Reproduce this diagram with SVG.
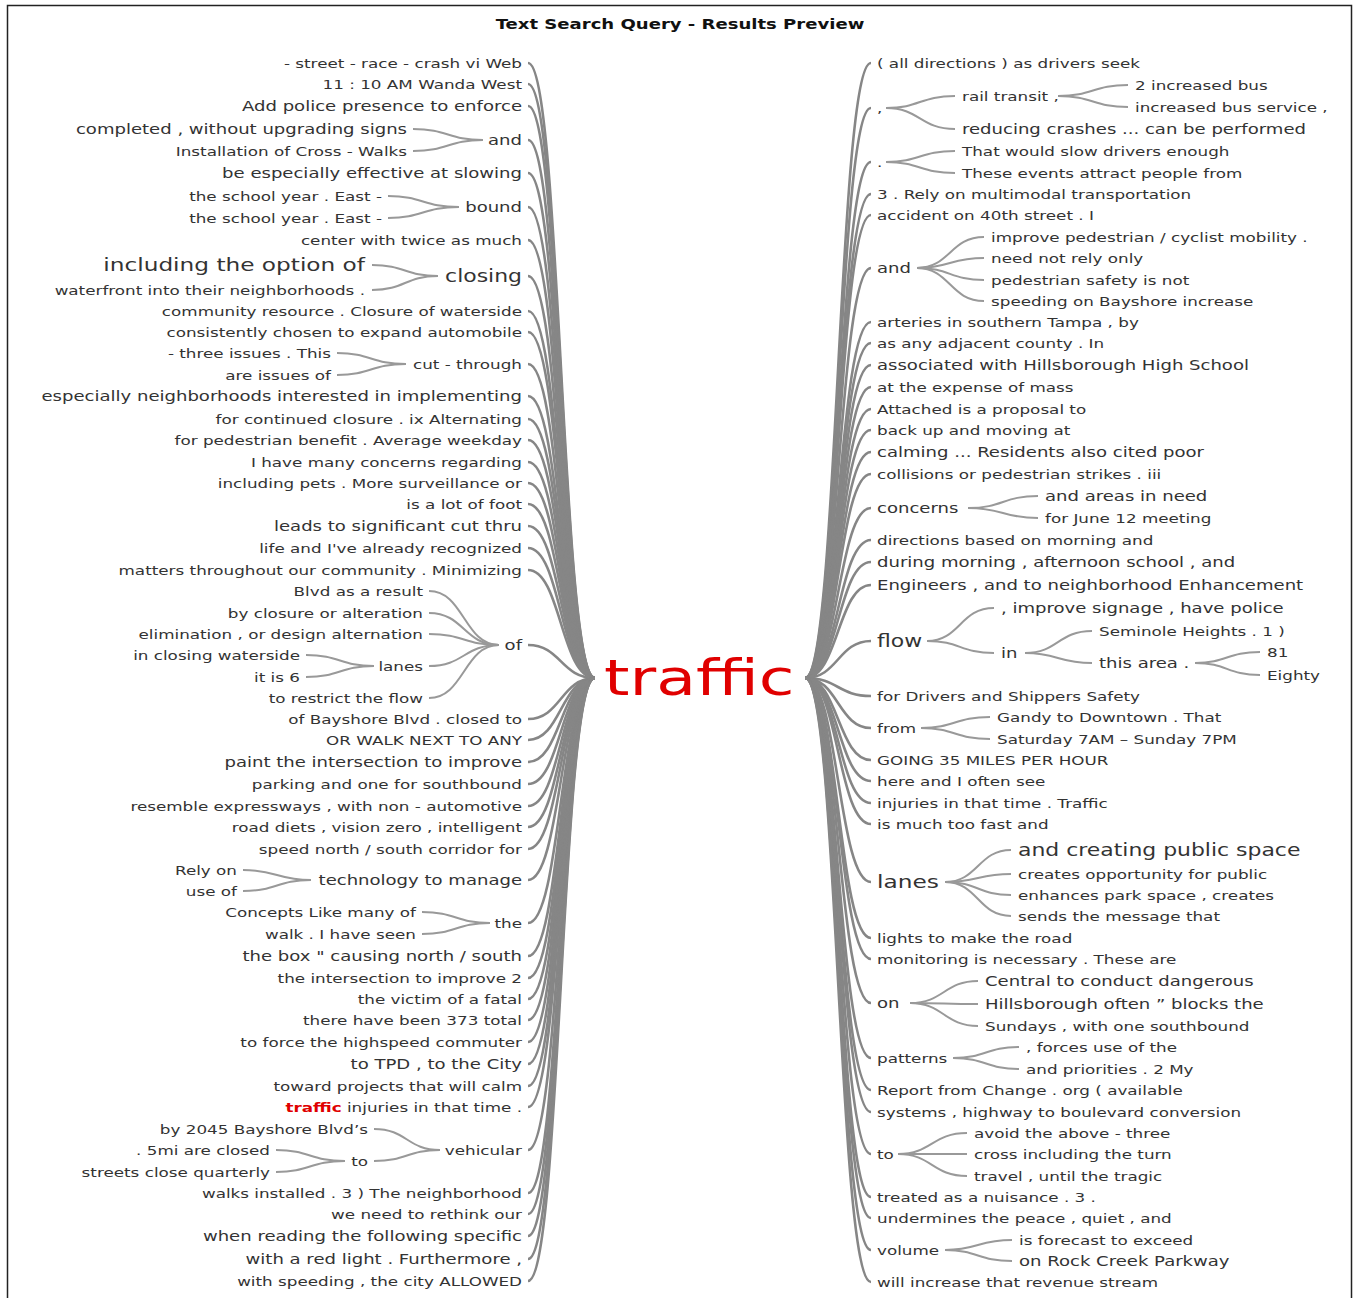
<svg xmlns="http://www.w3.org/2000/svg" width="1354" height="1298" viewBox="0 0 1354 1298">
<style>
.t{font-family:"DejaVu Sans","Liberation Sans",sans-serif;font-size:13px;fill:#333}
.e{text-anchor:end}
.m{font-size:14px}
.b{font-size:17px}
.x{font-size:18px}
.ttl{font-family:"DejaVu Sans","Liberation Sans",sans-serif;font-size:14px;font-weight:bold;fill:#111;text-anchor:middle}
.root{font-family:"DejaVu Sans","Liberation Sans",sans-serif;font-size:50px;fill:#e00000}
.c path{fill:none;stroke:#868686;stroke-width:2.6}
.s path{fill:none;stroke:#999;stroke-width:2}
</style>
<rect width="1354" height="1298" fill="#fff"/>
<rect x="7.5" y="5.5" width="1344" height="1310" fill="none" stroke="#222" stroke-width="1.5"/>
<text class="ttl" transform="translate(680 29) scale(1.29 1)">Text Search Query - Results Preview</text>

<g id="connectors">
<g class="c" id="root-left">
<path d="M528 63C561 63 561 678 595 678"/>
<path d="M528 84C561 84 561 678 595 678"/>
<path d="M528 106C561 106 561 678 595 678"/>
<path d="M528 140C561 140 561 678 595 678"/>
<path d="M528 173C561 173 561 678 595 678"/>
<path d="M528 207C561 207 561 678 595 678"/>
<path d="M528 240C561 240 561 678 595 678"/>
<path d="M528 276C561 276 561 678 595 678"/>
<path d="M528 311C561 311 561 678 595 678"/>
<path d="M528 332C561 332 561 678 595 678"/>
<path d="M528 364C561 364 561 678 595 678"/>
<path d="M528 396C561 396 561 678 595 678"/>
<path d="M528 419C561 419 561 678 595 678"/>
<path d="M528 440C561 440 561 678 595 678"/>
<path d="M528 462C561 462 561 678 595 678"/>
<path d="M528 483C561 483 561 678 595 678"/>
<path d="M528 504C561 504 561 678 595 678"/>
<path d="M528 526C561 526 561 678 595 678"/>
<path d="M528 548C561 548 561 678 595 678"/>
<path d="M528 570C561 570 561 678 595 678"/>
<path d="M528 645C561 645 561 678 595 678"/>
<path d="M528 719C561 719 561 678 595 678"/>
<path d="M528 740C561 740 561 678 595 678"/>
<path d="M528 762C561 762 561 678 595 678"/>
<path d="M528 784C561 784 561 678 595 678"/>
<path d="M528 806C561 806 561 678 595 678"/>
<path d="M528 827C561 827 561 678 595 678"/>
<path d="M528 849C561 849 561 678 595 678"/>
<path d="M528 880C561 880 561 678 595 678"/>
<path d="M528 923C561 923 561 678 595 678"/>
<path d="M528 956C561 956 561 678 595 678"/>
<path d="M528 978C561 978 561 678 595 678"/>
<path d="M528 999C561 999 561 678 595 678"/>
<path d="M528 1020C561 1020 561 678 595 678"/>
<path d="M528 1042C561 1042 561 678 595 678"/>
<path d="M528 1064C561 1064 561 678 595 678"/>
<path d="M528 1086C561 1086 561 678 595 678"/>
<path d="M528 1107C561 1107 561 678 595 678"/>
<path d="M528 1150C561 1150 561 678 595 678"/>
<path d="M528 1193C561 1193 561 678 595 678"/>
<path d="M528 1214C561 1214 561 678 595 678"/>
<path d="M528 1236C561 1236 561 678 595 678"/>
<path d="M528 1259C561 1259 561 678 595 678"/>
<path d="M528 1281C561 1281 561 678 595 678"/>
</g>
<g class="c" id="root-right">
<path d="M805 678C838 678 838 63 871 63"/>
<path d="M805 678C838 678 838 108 871 108"/>
<path d="M805 678C838 678 838 162 871 162"/>
<path d="M805 678C838 678 838 194 871 194"/>
<path d="M805 678C838 678 838 215 871 215"/>
<path d="M805 678C838 678 838 268 871 268"/>
<path d="M805 678C838 678 838 322 871 322"/>
<path d="M805 678C838 678 838 343 871 343"/>
<path d="M805 678C838 678 838 365 871 365"/>
<path d="M805 678C838 678 838 387 871 387"/>
<path d="M805 678C838 678 838 409 871 409"/>
<path d="M805 678C838 678 838 430 871 430"/>
<path d="M805 678C838 678 838 452 871 452"/>
<path d="M805 678C838 678 838 474 871 474"/>
<path d="M805 678C838 678 838 508 871 508"/>
<path d="M805 678C838 678 838 540 871 540"/>
<path d="M805 678C838 678 838 562 871 562"/>
<path d="M805 678C838 678 838 585 871 585"/>
<path d="M805 678C838 678 838 641 871 641"/>
<path d="M805 678C838 678 838 696 871 696"/>
<path d="M805 678C838 678 838 728 871 728"/>
<path d="M805 678C838 678 838 760 871 760"/>
<path d="M805 678C838 678 838 781 871 781"/>
<path d="M805 678C838 678 838 803 871 803"/>
<path d="M805 678C838 678 838 824 871 824"/>
<path d="M805 678C838 678 838 882 871 882"/>
<path d="M805 678C838 678 838 938 871 938"/>
<path d="M805 678C838 678 838 959 871 959"/>
<path d="M805 678C838 678 838 1003 871 1003"/>
<path d="M805 678C838 678 838 1058 871 1058"/>
<path d="M805 678C838 678 838 1090 871 1090"/>
<path d="M805 678C838 678 838 1112 871 1112"/>
<path d="M805 678C838 678 838 1154 871 1154"/>
<path d="M805 678C838 678 838 1197 871 1197"/>
<path d="M805 678C838 678 838 1218 871 1218"/>
<path d="M805 678C838 678 838 1250 871 1250"/>
<path d="M805 678C838 678 838 1282 871 1282"/>
</g>
<g class="s" id="sub-left">
<path d="M483 140C448 140 448 129 413 129"/>
<path d="M483 140C448 140 448 151 413 151"/>
<path d="M459 207C423 207 423 196 388 196"/>
<path d="M459 207C423 207 423 218 388 218"/>
<path d="M438 276C405 276 405 265 372 265"/>
<path d="M438 276C405 276 405 290 372 290"/>
<path d="M406 364C371 364 371 353 337 353"/>
<path d="M406 364C371 364 371 375 337 375"/>
<path d="M499 645C464 645 464 591 429 591"/>
<path d="M499 645C464 645 464 613 429 613"/>
<path d="M499 645C464 645 464 634 429 634"/>
<path d="M499 645C464 645 464 666 429 666"/>
<path d="M499 645C464 645 464 698 429 698"/>
<path d="M374 666C340 666 340 655 306 655"/>
<path d="M374 666C340 666 340 677 306 677"/>
<path d="M311 880C277 880 277 870 243 870"/>
<path d="M311 880C277 880 277 891 243 891"/>
<path d="M490 923C456 923 456 912 422 912"/>
<path d="M490 923C456 923 456 934 422 934"/>
<path d="M440 1150C407 1150 407 1129 374 1129"/>
<path d="M440 1150C407 1150 407 1161 374 1161"/>
<path d="M345 1161C310 1161 310 1150 276 1150"/>
<path d="M345 1161C310 1161 310 1172 276 1172"/>
</g>
<g class="s" id="sub-right">
<path d="M886 108C920 108 920 96 955 96"/>
<path d="M886 108C920 108 920 129 955 129"/>
<path d="M1058 96C1093 96 1093 85 1128 85"/>
<path d="M1058 96C1093 96 1093 107 1128 107"/>
<path d="M886 162C920 162 920 151 955 151"/>
<path d="M886 162C920 162 920 173 955 173"/>
<path d="M917 268C950 268 950 237 984 237"/>
<path d="M917 268C950 268 950 258 984 258"/>
<path d="M917 268C950 268 950 280 984 280"/>
<path d="M917 268C950 268 950 301 984 301"/>
<path d="M968 508C1003 508 1003 496 1038 496"/>
<path d="M968 508C1003 508 1003 518 1038 518"/>
<path d="M927 641C960 641 960 608 994 608"/>
<path d="M927 641C960 641 960 653 994 653"/>
<path d="M1025 653C1058 653 1058 631 1092 631"/>
<path d="M1025 653C1058 653 1058 663 1092 663"/>
<path d="M1195 663C1227 663 1227 652 1260 652"/>
<path d="M1195 663C1227 663 1227 675 1260 675"/>
<path d="M921 728C955 728 955 717 990 717"/>
<path d="M921 728C955 728 955 739 990 739"/>
<path d="M945 882C978 882 978 850 1011 850"/>
<path d="M945 882C978 882 978 874 1011 874"/>
<path d="M945 882C978 882 978 895 1011 895"/>
<path d="M945 882C978 882 978 916 1011 916"/>
<path d="M910 1003C944 1003 944 981 978 981"/>
<path d="M910 1003C944 1003 944 1004 978 1004"/>
<path d="M910 1003C944 1003 944 1026 978 1026"/>
<path d="M953 1058C986 1058 986 1047 1019 1047"/>
<path d="M953 1058C986 1058 986 1069 1019 1069"/>
<path d="M898 1154C932 1154 932 1133 967 1133"/>
<path d="M898 1154C932 1154 932 1154 967 1154"/>
<path d="M898 1154C932 1154 932 1176 967 1176"/>
<path d="M945 1250C978 1250 978 1240 1012 1240"/>
<path d="M945 1250C978 1250 978 1261 1012 1261"/>
</g>
</g>

<g id="node-root"><text class="root" transform="translate(604 695) scale(1.3 1)">traffic</text></g>

<g id="left-nodes">
<g id="l01"><text class="t e" transform="translate(522 68) scale(1.29 1)">- street - race - crash vi Web</text></g>
<g id="l02"><text class="t e" transform="translate(522 89) scale(1.29 1)">11 : 10 AM Wanda West</text></g>
<g id="l03"><text class="t e m" transform="translate(522 111) scale(1.29 1)">Add police presence to enforce</text></g>
<g id="l04"><text class="t e m" transform="translate(522 145) scale(1.29 1)">and</text></g>
<g id="l04a"><text class="t e m" transform="translate(407 134) scale(1.29 1)">completed , without upgrading signs</text></g>
<g id="l04b"><text class="t e" transform="translate(407 156) scale(1.29 1)">Installation of Cross - Walks</text></g>
<g id="l05"><text class="t e m" transform="translate(522 178) scale(1.29 1)">be especially effective at slowing</text></g>
<g id="l06"><text class="t e m" transform="translate(522 212) scale(1.29 1)">bound</text></g>
<g id="l06a"><text class="t e" transform="translate(382 201) scale(1.29 1)">the school year . East -</text></g>
<g id="l06b"><text class="t e" transform="translate(382 223) scale(1.29 1)">the school year . East -</text></g>
<g id="l07"><text class="t e" transform="translate(522 245) scale(1.29 1)">center with twice as much</text></g>
<g id="l08"><text class="t e b" transform="translate(522 282) scale(1.29 1)">closing</text></g>
<g id="l08a"><text class="t e x" transform="translate(365 271) scale(1.29 1)">including the option of</text></g>
<g id="l08b"><text class="t e" transform="translate(365 295) scale(1.29 1)">waterfront into their neighborhoods .</text></g>
<g id="l09"><text class="t e" transform="translate(522 316) scale(1.29 1)">community resource . Closure of waterside</text></g>
<g id="l10"><text class="t e" transform="translate(522 337) scale(1.29 1)">consistently chosen to expand automobile</text></g>
<g id="l11"><text class="t e" transform="translate(522 369) scale(1.29 1)">cut - through</text></g>
<g id="l11a"><text class="t e" transform="translate(331 358) scale(1.29 1)">- three issues . This</text></g>
<g id="l11b"><text class="t e" transform="translate(331 380) scale(1.29 1)">are issues of</text></g>
<g id="l12"><text class="t e m" transform="translate(522 401) scale(1.29 1)">especially neighborhoods interested in implementing</text></g>
<g id="l13"><text class="t e" transform="translate(522 424) scale(1.29 1)">for continued closure . ix Alternating</text></g>
<g id="l14"><text class="t e" transform="translate(522 445) scale(1.29 1)">for pedestrian benefit . Average weekday</text></g>
<g id="l15"><text class="t e" transform="translate(522 467) scale(1.29 1)">I have many concerns regarding</text></g>
<g id="l16"><text class="t e" transform="translate(522 488) scale(1.29 1)">including pets . More surveillance or</text></g>
<g id="l17"><text class="t e" transform="translate(522 509) scale(1.29 1)">is a lot of foot</text></g>
<g id="l18"><text class="t e m" transform="translate(522 531) scale(1.29 1)">leads to significant cut thru</text></g>
<g id="l19"><text class="t e" transform="translate(522 553) scale(1.29 1)">life and I've already recognized</text></g>
<g id="l20"><text class="t e" transform="translate(522 575) scale(1.29 1)">matters throughout our community . Minimizing</text></g>
<g id="l21"><text class="t e m" transform="translate(522 650) scale(1.29 1)">of</text></g>
<g id="l21a"><text class="t e" transform="translate(423 596) scale(1.29 1)">Blvd as a result</text></g>
<g id="l21b"><text class="t e" transform="translate(423 618) scale(1.29 1)">by closure or alteration</text></g>
<g id="l21c"><text class="t e" transform="translate(423 639) scale(1.29 1)">elimination , or design alternation</text></g>
<g id="l21d"><text class="t e" transform="translate(423 671) scale(1.29 1)">lanes</text></g>
<g id="l21d1"><text class="t e" transform="translate(300 660) scale(1.29 1)">in closing waterside</text></g>
<g id="l21d2"><text class="t e" transform="translate(300 682) scale(1.29 1)">it is 6</text></g>
<g id="l21e"><text class="t e" transform="translate(423 703) scale(1.29 1)">to restrict the flow</text></g>
<g id="l22"><text class="t e" transform="translate(522 724) scale(1.29 1)">of Bayshore Blvd . closed to</text></g>
<g id="l23"><text class="t e" transform="translate(522 745) scale(1.29 1)">OR WALK NEXT TO ANY</text></g>
<g id="l24"><text class="t e m" transform="translate(522 767) scale(1.29 1)">paint the intersection to improve</text></g>
<g id="l25"><text class="t e" transform="translate(522 789) scale(1.29 1)">parking and one for southbound</text></g>
<g id="l26"><text class="t e" transform="translate(522 811) scale(1.29 1)">resemble expressways , with non - automotive</text></g>
<g id="l27"><text class="t e" transform="translate(522 832) scale(1.29 1)">road diets , vision zero , intelligent</text></g>
<g id="l28"><text class="t e" transform="translate(522 854) scale(1.29 1)">speed north / south corridor for</text></g>
<g id="l29"><text class="t e m" transform="translate(522 885) scale(1.29 1)">technology to manage</text></g>
<g id="l29a"><text class="t e" transform="translate(237 875) scale(1.29 1)">Rely on</text></g>
<g id="l29b"><text class="t e" transform="translate(237 896) scale(1.29 1)">use of</text></g>
<g id="l30"><text class="t e" transform="translate(522 928) scale(1.29 1)">the</text></g>
<g id="l30a"><text class="t e" transform="translate(416 917) scale(1.29 1)">Concepts Like many of</text></g>
<g id="l30b"><text class="t e" transform="translate(416 939) scale(1.29 1)">walk . I have seen</text></g>
<g id="l31"><text class="t e m" transform="translate(522 961) scale(1.29 1)">the box " causing north / south</text></g>
<g id="l32"><text class="t e" transform="translate(522 983) scale(1.29 1)">the intersection to improve 2</text></g>
<g id="l33"><text class="t e" transform="translate(522 1004) scale(1.29 1)">the victim of a fatal</text></g>
<g id="l34"><text class="t e" transform="translate(522 1025) scale(1.29 1)">there have been 373 total</text></g>
<g id="l35"><text class="t e" transform="translate(522 1047) scale(1.29 1)">to force the highspeed commuter</text></g>
<g id="l36"><text class="t e m" transform="translate(522 1069) scale(1.29 1)">to TPD , to the City</text></g>
<g id="l37"><text class="t e" transform="translate(522 1091) scale(1.29 1)">toward projects that will calm</text></g>
<g id="l38"><text class="t e" transform="translate(522 1112) scale(1.29 1)"><tspan fill="#e00000" font-weight="bold">traffic</tspan> injuries in that time .</text></g>
<g id="l39"><text class="t e" transform="translate(522 1155) scale(1.29 1)">vehicular</text></g>
<g id="l39a"><text class="t e" transform="translate(368 1134) scale(1.29 1)">by 2045 Bayshore Blvd’s</text></g>
<g id="l39b"><text class="t e" transform="translate(368 1166) scale(1.29 1)">to</text></g>
<g id="l39b1"><text class="t e" transform="translate(270 1155) scale(1.29 1)">. 5mi are closed</text></g>
<g id="l39b2"><text class="t e" transform="translate(270 1177) scale(1.29 1)">streets close quarterly</text></g>
<g id="l40"><text class="t e" transform="translate(522 1198) scale(1.29 1)">walks installed . 3 ) The neighborhood</text></g>
<g id="l41"><text class="t e" transform="translate(522 1219) scale(1.29 1)">we need to rethink our</text></g>
<g id="l42"><text class="t e m" transform="translate(522 1241) scale(1.29 1)">when reading the following specific</text></g>
<g id="l43"><text class="t e m" transform="translate(522 1264) scale(1.29 1)">with a red light . Furthermore ,</text></g>
<g id="l44"><text class="t e" transform="translate(522 1286) scale(1.29 1)">with speeding , the city ALLOWED</text></g>
</g>

<g id="right-nodes">
<g id="r01"><text class="t" transform="translate(877 68) scale(1.29 1)">( all directions ) as drivers seek</text></g>
<g id="r02"><text class="t" transform="translate(877 113) scale(1.29 1)">,</text></g>
<g id="r02a"><text class="t" transform="translate(962 101) scale(1.29 1)">rail transit ,</text></g>
<g id="r02a1"><text class="t" transform="translate(1135 90) scale(1.29 1)">2 increased bus</text></g>
<g id="r02a2"><text class="t" transform="translate(1135 112) scale(1.29 1)">increased bus service ,</text></g>
<g id="r02b"><text class="t m" transform="translate(962 134) scale(1.29 1)">reducing crashes ... can be performed</text></g>
<g id="r03"><text class="t" transform="translate(877 167) scale(1.29 1)">.</text></g>
<g id="r03a"><text class="t" transform="translate(962 156) scale(1.29 1)">That would slow drivers enough</text></g>
<g id="r03b"><text class="t" transform="translate(962 178) scale(1.29 1)">These events attract people from</text></g>
<g id="r04"><text class="t" transform="translate(877 199) scale(1.29 1)">3 . Rely on multimodal transportation</text></g>
<g id="r05"><text class="t" transform="translate(877 220) scale(1.29 1)">accident on 40th street . I</text></g>
<g id="r06"><text class="t m" transform="translate(877 273) scale(1.29 1)">and</text></g>
<g id="r06a"><text class="t" transform="translate(991 242) scale(1.29 1)">improve pedestrian / cyclist mobility .</text></g>
<g id="r06b"><text class="t" transform="translate(991 263) scale(1.29 1)">need not rely only</text></g>
<g id="r06c"><text class="t" transform="translate(991 285) scale(1.29 1)">pedestrian safety is not</text></g>
<g id="r06d"><text class="t" transform="translate(991 306) scale(1.29 1)">speeding on Bayshore increase</text></g>
<g id="r07"><text class="t" transform="translate(877 327) scale(1.29 1)">arteries in southern Tampa , by</text></g>
<g id="r08"><text class="t" transform="translate(877 348) scale(1.29 1)">as any adjacent county . In</text></g>
<g id="r09"><text class="t m" transform="translate(877 370) scale(1.29 1)">associated with Hillsborough High School</text></g>
<g id="r10"><text class="t" transform="translate(877 392) scale(1.29 1)">at the expense of mass</text></g>
<g id="r11"><text class="t" transform="translate(877 414) scale(1.29 1)">Attached is a proposal to</text></g>
<g id="r12"><text class="t" transform="translate(877 435) scale(1.29 1)">back up and moving at</text></g>
<g id="r13"><text class="t m" transform="translate(877 457) scale(1.29 1)">calming ... Residents also cited poor</text></g>
<g id="r14"><text class="t" transform="translate(877 479) scale(1.29 1)">collisions or pedestrian strikes . iii</text></g>
<g id="r15"><text class="t m" transform="translate(877 513) scale(1.29 1)">concerns</text></g>
<g id="r15a"><text class="t m" transform="translate(1045 501) scale(1.29 1)">and areas in need</text></g>
<g id="r15b"><text class="t" transform="translate(1045 523) scale(1.29 1)">for June 12 meeting</text></g>
<g id="r16"><text class="t" transform="translate(877 545) scale(1.29 1)">directions based on morning and</text></g>
<g id="r17"><text class="t m" transform="translate(877 567) scale(1.29 1)">during morning , afternoon school , and</text></g>
<g id="r18"><text class="t m" transform="translate(877 590) scale(1.29 1)">Engineers , and to neighborhood Enhancement</text></g>
<g id="r19"><text class="t b" transform="translate(877 647) scale(1.29 1)">flow</text></g>
<g id="r19a"><text class="t m" transform="translate(1001 613) scale(1.29 1)">, improve signage , have police</text></g>
<g id="r19b"><text class="t m" transform="translate(1001 658) scale(1.29 1)">in</text></g>
<g id="r19b1"><text class="t" transform="translate(1099 636) scale(1.29 1)">Seminole Heights . 1 )</text></g>
<g id="r19b2"><text class="t m" transform="translate(1099 668) scale(1.29 1)">this area .</text></g>
<g id="r19b2a"><text class="t" transform="translate(1267 657) scale(1.29 1)">81</text></g>
<g id="r19b2b"><text class="t" transform="translate(1267 680) scale(1.29 1)">Eighty</text></g>
<g id="r20"><text class="t" transform="translate(877 701) scale(1.29 1)">for Drivers and Shippers Safety</text></g>
<g id="r21"><text class="t" transform="translate(877 733) scale(1.29 1)">from</text></g>
<g id="r21a"><text class="t" transform="translate(997 722) scale(1.29 1)">Gandy to Downtown . That</text></g>
<g id="r21b"><text class="t" transform="translate(997 744) scale(1.29 1)">Saturday 7AM – Sunday 7PM</text></g>
<g id="r22"><text class="t" transform="translate(877 765) scale(1.29 1)">GOING 35 MILES PER HOUR</text></g>
<g id="r23"><text class="t" transform="translate(877 786) scale(1.29 1)">here and I often see</text></g>
<g id="r24"><text class="t" transform="translate(877 808) scale(1.29 1)">injuries in that time . Traffic</text></g>
<g id="r25"><text class="t" transform="translate(877 829) scale(1.29 1)">is much too fast and</text></g>
<g id="r26"><text class="t x" transform="translate(877 888) scale(1.29 1)">lanes</text></g>
<g id="r26a"><text class="t b" transform="translate(1018 856) scale(1.29 1)">and creating public space</text></g>
<g id="r26b"><text class="t" transform="translate(1018 879) scale(1.29 1)">creates opportunity for public</text></g>
<g id="r26c"><text class="t" transform="translate(1018 900) scale(1.29 1)">enhances park space , creates</text></g>
<g id="r26d"><text class="t" transform="translate(1018 921) scale(1.29 1)">sends the message that</text></g>
<g id="r27"><text class="t" transform="translate(877 943) scale(1.29 1)">lights to make the road</text></g>
<g id="r28"><text class="t" transform="translate(877 964) scale(1.29 1)">monitoring is necessary . These are</text></g>
<g id="r29"><text class="t m" transform="translate(877 1008) scale(1.29 1)">on</text></g>
<g id="r29a"><text class="t m" transform="translate(985 986) scale(1.29 1)">Central to conduct dangerous</text></g>
<g id="r29b"><text class="t m" transform="translate(985 1009) scale(1.29 1)">Hillsborough often ” blocks the</text></g>
<g id="r29c"><text class="t" transform="translate(985 1031) scale(1.29 1)">Sundays , with one southbound</text></g>
<g id="r30"><text class="t" transform="translate(877 1063) scale(1.29 1)">patterns</text></g>
<g id="r30a"><text class="t" transform="translate(1026 1052) scale(1.29 1)">, forces use of the</text></g>
<g id="r30b"><text class="t" transform="translate(1026 1074) scale(1.29 1)">and priorities . 2 My</text></g>
<g id="r31"><text class="t" transform="translate(877 1095) scale(1.29 1)">Report from Change . org ( available</text></g>
<g id="r32"><text class="t" transform="translate(877 1117) scale(1.29 1)">systems , highway to boulevard conversion</text></g>
<g id="r33"><text class="t" transform="translate(877 1159) scale(1.29 1)">to</text></g>
<g id="r33a"><text class="t" transform="translate(974 1138) scale(1.29 1)">avoid the above - three</text></g>
<g id="r33b"><text class="t" transform="translate(974 1159) scale(1.29 1)">cross including the turn</text></g>
<g id="r33c"><text class="t" transform="translate(974 1181) scale(1.29 1)">travel , until the tragic</text></g>
<g id="r34"><text class="t" transform="translate(877 1202) scale(1.29 1)">treated as a nuisance . 3 .</text></g>
<g id="r35"><text class="t" transform="translate(877 1223) scale(1.29 1)">undermines the peace , quiet , and</text></g>
<g id="r36"><text class="t" transform="translate(877 1255) scale(1.29 1)">volume</text></g>
<g id="r36a"><text class="t" transform="translate(1019 1245) scale(1.29 1)">is forecast to exceed</text></g>
<g id="r36b"><text class="t m" transform="translate(1019 1266) scale(1.29 1)">on Rock Creek Parkway</text></g>
<g id="r37"><text class="t" transform="translate(877 1287) scale(1.29 1)">will increase that revenue stream</text></g>
</g>
</svg>
